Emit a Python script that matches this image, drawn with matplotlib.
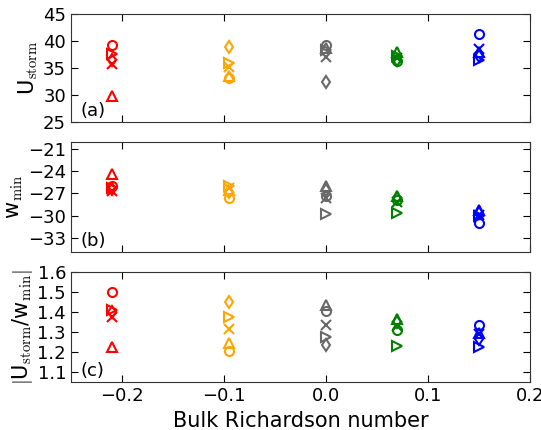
import matplotlib
matplotlib.use("Agg")
import matplotlib.pyplot as plt

plt.rcParams["mathtext.fontset"] = "cm"

# bulk Richardson number for each group of runs
ri = [-0.21, -0.095, 0.0, 0.07, 0.15]
colors = ["red", "orange", "dimgray", "green", "blue"]
markers = ["o", ">", "x", "d", "^"]

# one list per marker (o, >, x, d, ^), one value per Ri group
u_storm = {
    "o": [39.2, 33.2, 39.2, 36.3, 41.4],
    ">": [37.7, 35.9, 38.3, 37.3, 36.6],
    "x": [35.7, 35.3, 37.0, 36.9, 38.5],
    "d": [36.6, 38.9, 32.5, 36.6, 37.2],
    "^": [29.8, 33.5, 38.8, 38.0, 38.0],
}
w_min = {
    "o": [-26.0, -27.6, -27.4, -27.9, -31.0],
    ">": [-26.2, -26.0, -29.8, -29.7, -30.1],
    "x": [-26.6, -26.3, -27.6, -28.2, -29.9],
    "d": [-26.4, -26.8, -26.5, -27.6, -29.6],
    "^": [-24.4, -26.5, -26.0, -27.3, -29.2],
}
ratio = {
    "o": [1.50, 1.205, 1.408, 1.31, 1.337],
    ">": [1.41, 1.375, 1.275, 1.233, 1.225],
    "x": [1.375, 1.316, 1.337, 1.33, 1.29],
    "d": [1.40, 1.453, 1.237, 1.35, 1.267],
    "^": [1.225, 1.247, 1.438, 1.367, 1.295],
}

panels = [
    (u_storm, r"U$_{\rm storm}$", (25, 45), [25, 30, 35, 40, 45], "(a)"),
    (w_min, r"w$_{\rm min}$", (-35, -20), [-33, -30, -27, -24, -21], "(b)"),
    (ratio, r"$|$U$_{\rm storm}$/w$_{\rm min}$$|$", (1.05, 1.6),
     [1.1, 1.2, 1.3, 1.4, 1.5, 1.6], "(c)"),
]

fig = plt.figure(figsize=(5.41, 4.30), dpi=100)
boxes = [(0.131, 0.716, 0.849, 0.251),
         (0.131, 0.413, 0.849, 0.257),
         (0.131, 0.111, 0.849, 0.256)]

for (data, ylabel, ylim, yticks, tag), box in zip(panels, boxes):
    ax = fig.add_axes(box)
    for m in markers:
        for x, y, c in zip(ri, data[m], colors):
            kw = dict(marker=m, linestyle="none", markersize=6.5,
                      markeredgewidth=1.5, color=c)
            if m != "x":
                kw["markerfacecolor"] = "none"
            ax.plot([x], [y], **kw)
    ax.set_xlim(-0.25, 0.2)
    ax.set_ylim(*ylim)
    ax.set_yticks(yticks)
    ax.set_xticks([-0.2, -0.1, 0.0, 0.1, 0.2])
    ax.tick_params(direction="in", top=True, right=True, labelsize=13,
                   length=5, width=0.8)
    ax.set_ylabel(ylabel, fontsize=15, labelpad=2)
    ax.text(0.02, 0.06, tag, transform=ax.transAxes, fontsize=13)
    for s in ax.spines.values():
        s.set_color("#333333")
    if tag != "(c)":
        ax.set_xticklabels([])
    else:
        ax.set_xlabel("Bulk Richardson number", fontsize=15)

fig.savefig("out.png", dpi=100)
